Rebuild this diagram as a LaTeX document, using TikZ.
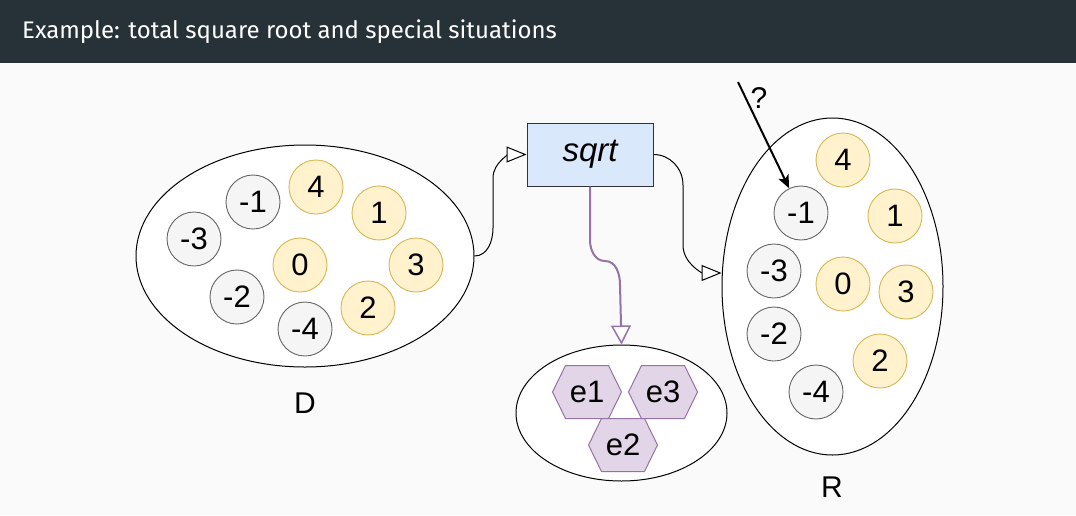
\documentclass[tikz,border=0pt]{standalone}
\usepackage{fontspec}
\setmainfont{Liberation Sans}
\newfontfamily\firafont{Fira Sans}
\usetikzlibrary{shapes.geometric,arrows.meta}
\definecolor{hdr}{HTML}{263238}
\definecolor{bgc}{HTML}{FAFAFA}
\definecolor{gfill}{HTML}{F5F5F5}
\definecolor{gline}{HTML}{666666}
\definecolor{yfill}{HTML}{FFF2CC}
\definecolor{yline}{HTML}{D6B656}
\definecolor{bfill}{HTML}{DAE8FC}
\definecolor{pfill}{HTML}{E1D5E7}
\definecolor{pline}{HTML}{9673A6}
\tikzset{
  negcirc/.style={circle,draw=gline,fill=gfill,line width=0.9pt,minimum size=54pt,inner sep=0pt,font=\fontsize{31}{33}\selectfont},
  poscirc/.style={circle,draw=yline,fill=yfill,line width=0.9pt,minimum size=54pt,inner sep=0pt,font=\fontsize{31}{33}\selectfont},
  setell/.style={ellipse,draw=black,fill=white,line width=1pt,inner sep=0pt},
  lbl/.style={font=\fontsize{30}{32}\selectfont},
  conn/.style={draw=black,line width=1pt,-{Triangle[length=20pt,width=16pt,fill=white,line width=1pt]}},
  pconn/.style={draw=pline,line width=2pt,-{Triangle[length=19pt,width=20pt,fill=white,line width=1.5pt]}},
  qarrow/.style={draw=black,line width=2pt,-{Stealth[length=13pt,width=11pt,inset=3pt]}},
  hexst/.style={draw=pline,fill=pfill,line width=1pt},
  hexlbl/.style={font=\fontsize{31}{33}\selectfont},
}
\newcommand{\hexagonat}[4]{%
  \draw[hexst] (#2,#3) ++(-34.5,0) -- ++(13,26.5) -- ++(43,0) -- ++(13,-26.5) -- ++(-13,-26.5) -- ++(-43,0) -- cycle;
  \node[hexlbl] (#1) at (#2,#3) {#4};}
\begin{document}
\begin{tikzpicture}[x=1pt,y=-1pt]
\useasboundingbox (0,0) rectangle (1076,515);
\fill[bgc] (0,0) rectangle (1076,515);
\fill[hdr] (0,0) rectangle (1076,63);
\node[anchor=base west,text=white,inner sep=0pt,font=\firafont\fontsize{24}{28}\selectfont] (title) at (22,38) {Example: total square root and special situations};

% D set
\node[setell,minimum width=338pt,minimum height=222pt] (D) at (305,256) {};
\node[negcirc] (Dm1) at (253,202) {-1};
\node[poscirc] (D4) at (316,187) {4};
\node[poscirc] (D1) at (379,213) {1};
\node[negcirc] (Dm3) at (194,239) {-3};
\node[poscirc] (D0) at (300,265) {0};
\node[poscirc] (D3) at (416,265) {3};
\node[negcirc] (Dm2) at (237,297) {-2};
\node[poscirc] (D2) at (368,308) {2};
\node[negcirc] (Dm4) at (305,329) {-4};
\node[lbl] (Dl) at (305,403) {D};

% sqrt box
\node[draw=black!80,fill=bfill,line width=1pt,minimum width=126pt,minimum height=63pt,inner sep=0pt,font=\itshape\fontsize{33}{35}\selectfont] (sq) at (590,154.5) {sqrt};

% E set
\node[setell,minimum width=211pt,minimum height=136pt] (E) at (621.5,413) {};
\hexagonat{e1}{587}{392}{e1}
\hexagonat{e3}{663}{392}{e3}
\hexagonat{e2}{623}{445}{e2}

% R set
\node[setell,minimum width=221pt,minimum height=337pt] (R) at (832.5,286.5) {};
\node[poscirc] (R4) at (843,160) {4};
\node[negcirc] (Rm1) at (801,213) {-1};
\node[poscirc] (R1) at (895,216) {1};
\node[negcirc] (Rm3) at (774,271) {-3};
\node[poscirc] (R0) at (843,284) {0};
\node[poscirc] (R3) at (906,292) {3};
\node[negcirc] (Rm2) at (774,334) {-2};
\node[poscirc] (R2) at (880,361) {2};
\node[negcirc] (Rm4) at (816,392) {-4};
\node[lbl] (Rl) at (832,487) {R};

% connectors
\draw[conn] (D.east) to[out=0,in=-90] (493,228) -- (493,178) to[out=90,in=180] (sq.west);
\draw[conn] (sq.east) to[out=0,in=90] (683,185) -- (683,245) to[out=-90,in=180] ([yshift=13.5pt]R.west);
\draw[pconn] (sq.south) -- (590,240) to[out=-90,in=180] (605,261) to[out=0,in=90] (620,285) -- (E.north);

% question arrow
\coordinate (qs) at (738,82);
\draw[qarrow] (qs) -- (Rm1);
\node[font=\fontsize{30}{32}\selectfont] (ql) at (759,98) {?};
\end{tikzpicture}
\end{document}
